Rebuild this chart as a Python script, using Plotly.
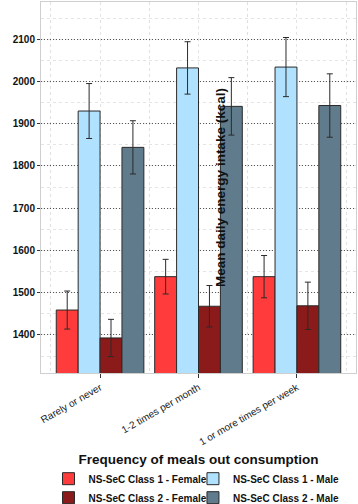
import plotly.graph_objects as go

categories = ["Rarely or never", "1-2 times per month", "1 or more times per week"]
series_names = ["NS-SeC Class 1 - Female", "NS-SeC Class 1 - Male",
                "NS-SeC Class 2 - Female", "NS-SeC Class 2 - Male"]
legend_of_series = ["legend", "legend2", "legend", "legend2"]
c1_female = [1459, 1538, 1538]
c1_female_err = [45, 41, 50]
c1_male = [1930, 2032, 2034]
c1_male_err = [65, 62, 70]
c2_female = [1393, 1468, 1469]
c2_female_err = [44, 49, 56]
c2_male = [1844, 1941, 1943]
c2_male_err = [63, 68, 75]
colors = ["#FF3B3B", "#B0E2FF", "#8B1A1A", "#607B8B"]
y_ticks = [1400, 1500, 1600, 1700, 1800, 1900, 2000, 2100]

values = [c1_female, c1_male, c2_female, c2_male]
errors = [c1_female_err, c1_male_err, c2_female_err, c2_male_err]
xpos = list(range(len(categories)))

FONT = "Liberation Sans, Arial, sans-serif"

fig = go.Figure()
for name, vals, errs, col, lg in zip(series_names, values, errors, colors, legend_of_series):
    fig.add_trace(go.Bar(
        x=xpos, y=vals, name=name, legend=lg,
        marker=dict(color=col, line=dict(color="#2a2a2a", width=1)),
        error_y=dict(type="data", array=errs, visible=True,
                     color="#2a2a2a", thickness=1, width=3),
    ))

legend_common = dict(
    orientation="v", xanchor="left", xref="container",
    y=0.079, yanchor="top", yref="container",
    font=dict(family=FONT, size=10, color="#111", weight="bold"),
    tracegroupgap=0, bgcolor="rgba(0,0,0,0)", traceorder="normal",
)

fig.update_layout(
    width=358, height=504,
    margin=dict(l=41, r=2, t=2, b=131, autoexpand=False),
    paper_bgcolor="white", plot_bgcolor="white",
    barmode="group", bargap=0.11, bargroupgap=0,
    font=dict(family=FONT, color="#111"),
    legend=dict(x=0.1355, **legend_common),
    legend2=dict(x=0.539, **legend_common),
    xaxis=dict(
        range=[-0.6, 2.6], tickvals=xpos, ticktext=categories,
        tickangle=-30, tickfont=dict(size=10, color="#222"),
        ticks="outside", ticklen=4, tickcolor="#333",
        showgrid=True, gridcolor="#e4e4e4", griddash="dot", gridwidth=1,
        minor=dict(tick0=0.5, dtick=1, showgrid=True, gridcolor="#e0e0e0",
                   griddash="dot", ticks=""),
        showline=True, linecolor="#cfcfcf", linewidth=1, mirror=True,
        zeroline=False, automargin=False,
        title=dict(text="Frequency of meals out consumption",
                   font=dict(size=13.5, weight="bold", color="#111"), standoff=8),
    ),
    yaxis=dict(
        range=[1310, 2188], tickvals=y_ticks,
        tickfont=dict(size=10, color="#111", weight="bold"),
        ticks="outside", ticklen=3, tickcolor="#333",
        showgrid=True, gridcolor="#555", griddash="1px,2px", gridwidth=1,
        minor=dict(dtick=50, tick0=1350, showgrid=True, gridcolor="#e4e4e4",
                   griddash="dot", ticks=""),
        showline=True, linecolor="#cfcfcf", linewidth=1, mirror=True,
        zeroline=False, automargin=False,
        title=dict(text="Mean daily energy intake (kcal)",
                   font=dict(size=13.5, weight="bold", color="#111"), standoff=4),
    ),
)

post = (
    "document.body.style.margin='0';"
    "document.body.style.overflow='hidden';"
    "var gd=document.getElementById('{plot_id}');"
    "Plotly.newPlot(gd, gd.data, gd.layout, {displayModeBar:false});"
)
fig.write_html("out.html", config={"displayModeBar": False}, post_script=post)
